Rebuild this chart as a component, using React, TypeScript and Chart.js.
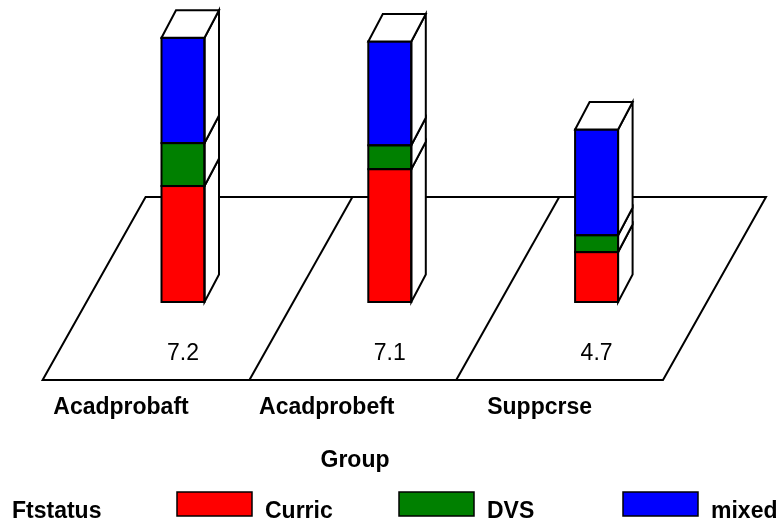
import React, { useEffect, useRef } from "react";
import { Chart, registerables } from "chart.js";

Chart.register(...registerables);

// ---- data ----
const categories = ["Acadprobaft", "Acadprobeft", "Suppcrse"];
const curric = [3.16, 3.62, 1.36];
const dvs = [1.17, 0.65, 0.46];
const mixed = [2.87, 2.83, 2.88];
const seriesNames = ["Curric", "DVS", "mixed"];
const seriesColors = ["#ff0000", "#008000", "#0000ff"];
const yMax = 8;
const xTitle = "Group";
const legendTitle = "Ftstatus";

// ---- style constants ----
const FONT = '"Liberation Sans", Arial, Helvetica, sans-serif';
const DX = 14.5;
const DY = -27.5;
const LABEL_SHIFT = [-62, -63, -57];

const plot3d = {
  id: "plot3d",
  beforeDatasetsDraw(chart: any) {
    const ctx = chart.ctx;
    const xs = chart.scales.x;
    const area = chart.chartArea;
    const frontY = area.bottom + 78;
    const backY = area.bottom - 105;
    const n = categories.length;
    const edge = (k: number) => xs.getPixelForValue(k - 0.5);
    ctx.save();
    ctx.strokeStyle = "#000";
    ctx.lineWidth = 2;
    ctx.fillStyle = "#fff";
    ctx.lineJoin = "miter";
    ctx.beginPath();
    ctx.moveTo(edge(0) - 37, frontY);
    ctx.lineTo(edge(n) - 37, frontY);
    ctx.lineTo(edge(n) + 66, backY);
    ctx.lineTo(edge(0) + 66, backY);
    ctx.closePath();
    ctx.fill();
    ctx.stroke();
    for (let k = 1; k < n; k++) {
      ctx.beginPath();
      ctx.moveTo(edge(k) - 37, frontY);
      ctx.lineTo(edge(k) + 66, backY);
      ctx.stroke();
    }
    ctx.restore();
  },
  afterDatasetsDraw(chart: any) {
    const ctx = chart.ctx;
    const area = chart.chartArea;
    const nd = chart.data.datasets.length;
    ctx.save();
    ctx.strokeStyle = "#000";
    ctx.lineWidth = 2;
    ctx.lineJoin = "miter";
    for (let j = 0; j < categories.length; j++) {
      let cx = 0;
      let total = 0;
      for (let i = 0; i < nd; i++) {
        const el = chart.getDatasetMeta(i).data[j];
        const p = el.getProps(["x", "y", "base", "width"], true);
        const left = p.x - p.width / 2;
        const right = p.x + p.width / 2;
        cx = p.x;
        total += chart.data.datasets[i].data[j];
        // side face
        ctx.fillStyle = "#fff";
        ctx.beginPath();
        ctx.moveTo(right, p.y);
        ctx.lineTo(right + DX, p.y + DY);
        ctx.lineTo(right + DX, p.base + DY);
        ctx.lineTo(right, p.base);
        ctx.closePath();
        ctx.fill();
        ctx.stroke();
        // front outline
        ctx.strokeRect(left, p.y, p.width, p.base - p.y);
        if (i === nd - 1) {
          ctx.beginPath();
          ctx.moveTo(left, p.y);
          ctx.lineTo(left + DX, p.y + DY);
          ctx.lineTo(right + DX, p.y + DY);
          ctx.lineTo(right, p.y);
          ctx.closePath();
          ctx.fill();
          ctx.stroke();
        }
      }
      // total label
      ctx.fillStyle = "#000";
      ctx.font = `23px ${FONT}`;
      ctx.textAlign = "center";
      ctx.textBaseline = "alphabetic";
      ctx.fillText(total.toFixed(1), cx, area.bottom + 58);
      // category label
      ctx.font = `bold 23px ${FONT}`;
      ctx.fillText(categories[j], cx + LABEL_SHIFT[j], area.bottom + 111.5);
    }
    // axis title
    ctx.font = `bold 23px ${FONT}`;
    ctx.textAlign = "center";
    ctx.fillStyle = "#000";
    ctx.fillText(xTitle, 355, 467);
    // legend
    ctx.textAlign = "left";
    ctx.fillText(legendTitle, 12, 518);
    const swX = [177, 399, 623];
    for (let i = 0; i < seriesNames.length; i++) {
      ctx.fillStyle = seriesColors[i];
      ctx.fillRect(swX[i], 492, 75, 24);
      ctx.lineWidth = 1.5;
      ctx.strokeStyle = "#000";
      ctx.strokeRect(swX[i], 492, 75, 24);
      ctx.fillStyle = "#000";
      ctx.fillText(seriesNames[i], swX[i] + 88, 518);
    }
    ctx.restore();
  },
};

export default function App() {
  const ref = useRef<HTMLCanvasElement | null>(null);
  useEffect(() => {
    if (!ref.current) return;
    const values = [curric, dvs, mixed];
    const chart = new Chart(ref.current, {
      type: "bar",
      data: {
        labels: categories,
        datasets: seriesNames.map((name, i) => ({
          label: name,
          data: values[i],
          backgroundColor: seriesColors[i],
          borderWidth: 0,
          barThickness: 43,
        })),
      },
      options: {
        responsive: false,
        animation: false,
        devicePixelRatio: 1,
        layout: { padding: { left: 79.6, right: 78, top: 8.4, bottom: 219 } },
        scales: {
          x: { display: false, stacked: true },
          y: { display: false, stacked: true, min: 0, max: yMax },
        },
        plugins: {
          legend: { display: false },
          tooltip: { enabled: false },
          title: { display: false },
        },
      },
      plugins: [plot3d],
    });
    return () => chart.destroy();
  }, []);
  return (
    <div style={{ position: "absolute", left: 0, top: 0, width: 778, height: 521, background: "#fff" }}>
      <canvas ref={ref} width={778} height={521} />
    </div>
  );
}
